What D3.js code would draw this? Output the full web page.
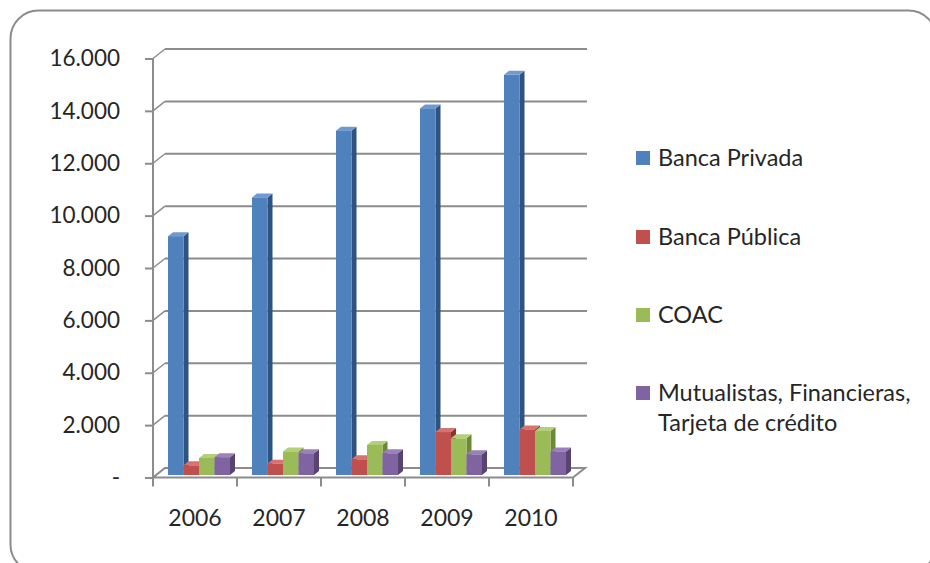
<!DOCTYPE html>
<html>
<head>
<meta charset="utf-8">
<script src="https://cdn.jsdelivr.net/npm/d3@7"></script>
<style>
  body { margin: 0; background: #fff; }
  text { font-family: Lato, "Open Sans", sans-serif; fill: #262626; }
</style>
</head>
<body>
<div id="viz"></div>
<script>
// data
const years = ["2006", "2007", "2008", "2009", "2010"];
const series = ["Banca Privada", "Banca Pública", "COAC", "Mutualistas, Financieras, Tarjeta de crédito"];
const bancaPrivada = [9120, 10600, 13150, 14000, 15280];
const bancaPublica = [370, 430, 600, 1640, 1740];
const coac = [650, 900, 1150, 1400, 1680];
const mutualistas = [680, 830, 830, 790, 900];
const yTicks = [0, 2000, 4000, 6000, 8000, 10000, 12000, 14000, 16000];

const values = [bancaPrivada, bancaPublica, coac, mutualistas];
const colors = [
  {front: "#4f81bd", side: "#2f5380", top: "#6f9ad0"},
  {front: "#c0504d", side: "#8a3432", top: "#d47370"},
  {front: "#9bbb59", side: "#6b8a35", top: "#b3cf7a"},
  {front: "#8064a2", side: "#574473", top: "#9a82b8"}
];

const width = 930, height = 563;
const depth = {dx: 12, dy: 9.5};     // wall/floor depth offset
const barDepth = {dx: 5, dy: 4};     // bar side depth

const svg = d3.select("#viz")
  .append("svg")
    .attr("width", width)
    .attr("height", height);

// rounded frame
svg.append("rect")
  .attr("x", 10.5).attr("y", 10.5)
  .attr("width", 926).attr("height", 562)
  .attr("rx", 28).attr("ry", 28)
  .attr("fill", "#fff")
  .attr("stroke", "#8c8c8c")
  .attr("stroke-width", 2);

// scales
const x = d3.scaleBand()
  .domain(years)
  .range([153, 573]);

const xs = d3.scaleBand()
  .domain(series)
  .range([15, 77]);

const yAxisScale = d3.scaleLinear()
  .domain([0, 16000])
  .range([477.5, 58.5]);

// bars stand slightly back from the floor front edge
const yBar = d3.scaleLinear()
  .domain([0, 16000])
  .range([475, 475 - 419]);

const fmt = d3.formatLocale({decimal: ",", thousands: ".", grouping: [3], currency: ["$", ""]}).format(",d");

const grid = "#8c8c8c";

// back wall gridlines + left wall slants
yTicks.filter(d => d > 0).forEach(v => {
  const yy = yAxisScale(v);
  svg.append("line")
    .attr("x1", 153 + depth.dx).attr("x2", 587)
    .attr("y1", yy - depth.dy).attr("y2", yy - depth.dy)
    .attr("stroke", grid).attr("stroke-width", 2);
});
yTicks.forEach(v => {
  const yy = yAxisScale(v);
  svg.append("line")
    .attr("x1", 153).attr("x2", 153 + depth.dx)
    .attr("y1", yy).attr("y2", yy - depth.dy)
    .attr("stroke", grid).attr("stroke-width", 1.5);
});

// floor
const x0 = x.range()[0], x1 = x.range()[1], yf = yAxisScale(0);
svg.append("path")
  .attr("d", `M${x0},${yf}L${x1},${yf}L${x1 + depth.dx},${yf - depth.dy}L${x0 + depth.dx},${yf - depth.dy}Z`)
  .attr("fill", "#fff")
  .attr("stroke", grid)
  .attr("stroke-width", 2);

// bars, drawn left to right so later fronts cover earlier sides
years.forEach((yr, i) => {
  series.forEach((s, j) => {
    const v = values[j][i];
    const bx = x(yr) + xs(s);
    const bw = xs.bandwidth();
    const top = yBar(v), base = yBar(0);
    const c = colors[j];
    const g = svg.append("g");
    // side
    g.append("path")
      .attr("d", `M${bx + bw},${top}L${bx + bw + barDepth.dx},${top - barDepth.dy}L${bx + bw + barDepth.dx},${base - barDepth.dy}L${bx + bw},${base}Z`)
      .attr("fill", c.side);
    // top
    g.append("path")
      .attr("d", `M${bx},${top}L${bx + barDepth.dx},${top - barDepth.dy}L${bx + bw + barDepth.dx},${top - barDepth.dy}L${bx + bw},${top}Z`)
      .attr("fill", c.top);
    // front
    g.append("rect")
      .attr("x", bx).attr("y", top)
      .attr("width", bw).attr("height", base - top)
      .attr("fill", c.front);
  });
});

// y axis
const yAxis = svg.append("g")
  .attr("transform", "translate(153,0)")
  .call(d3.axisLeft(yAxisScale)
    .tickValues(yTicks)
    .tickSize(8)
    .tickPadding(25)
    .tickFormat(d => d === 0 ? "-" : fmt(d)));
yAxis.select(".domain").remove();
yAxis.selectAll(".tick line").attr("stroke", grid).attr("stroke-width", 2);
yAxis.selectAll(".tick text").attr("font-size", 22.5).attr("fill", "#262626");
svg.append("line")
  .attr("x1", 153).attr("x2", 153)
  .attr("y1", 58.5).attr("y2", 486)
  .attr("stroke", grid).attr("stroke-width", 2);

// x axis
const xAxis = svg.append("g")
  .attr("transform", "translate(0," + yf + ")")
  .call(d3.axisBottom(x).tickSize(0).tickPadding(32));
xAxis.select(".domain").remove();
xAxis.selectAll(".tick text").attr("font-size", 23).attr("fill", "#262626");
years.concat([null]).forEach((yr, i) => {
  const xx = yr ? x(yr) : x1;
  svg.append("line")
    .attr("x1", xx).attr("x2", xx)
    .attr("y1", yf).attr("y2", yf + 9)
    .attr("stroke", grid).attr("stroke-width", 2);
});

// legend
const legendY = [158, 237, 315, 393];
const legend = svg.append("g");
series.forEach((s, j) => {
  legend.append("rect")
    .attr("x", 636).attr("y", legendY[j] - 7)
    .attr("width", 14).attr("height", 14)
    .attr("fill", colors[j].front);
  const lines = j === 3 ? ["Mutualistas, Financieras,", "Tarjeta de crédito"] : [s];
  lines.forEach((ln, k) => {
    legend.append("text")
      .attr("x", 658).attr("y", legendY[j] + k * 30)
      .attr("dy", "0.35em")
      .attr("font-size", 23.5)
      .text(ln);
  });
});
</script>
</body>
</html>
